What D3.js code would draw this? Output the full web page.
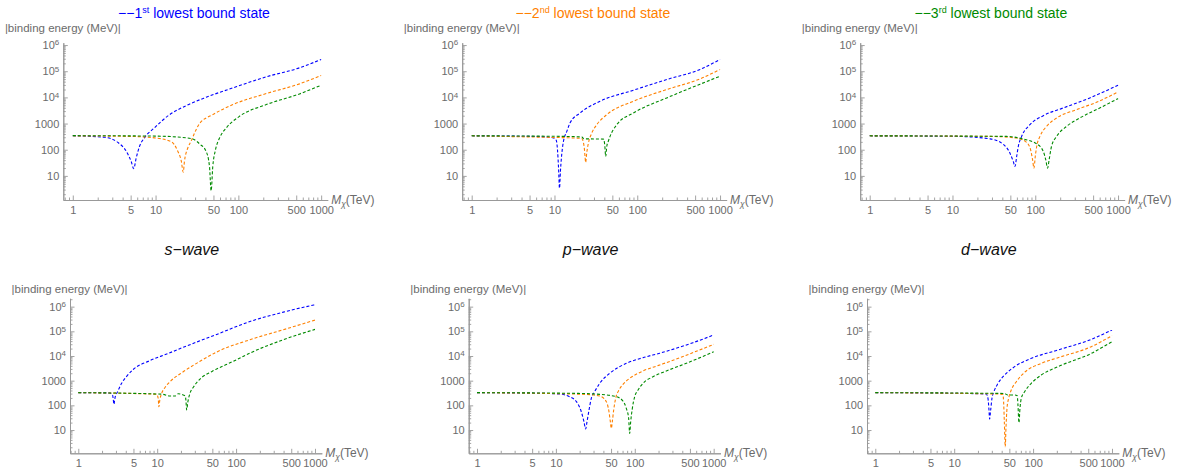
<!DOCTYPE html>
<html><head><meta charset="utf-8">
<script src="https://cdn.jsdelivr.net/npm/d3@7"></script>
<style>
body{margin:0;background:#fff;}
svg{display:block;font-family:"Liberation Sans",Arial,sans-serif;}
</style></head><body>
<svg id="chart" width="1177" height="470"></svg>
<script>
// ---------- data ----------
const stateOrdinals = ["1", "2", "3"];
const stateSuffixes = ["st", "nd", "rd"];
const waveLabels = ["s\u2212wave", "p\u2212wave", "d\u2212wave"];
const massTicks = [1, 5, 10, 50, 100, 500, 1000];
const massTickLabels = ["1", "5", "10", "50", "100", "500", "1000"];
const energyTicks = [10, 100, 1000, 1e4, 1e5, 1e6];
const energyTickLabels = ["10", "100", "1000", "10^4", "10^5", "10^6"];

// [M_chi (TeV), |binding energy| (MeV)]
// top-left panel
const p1_state1 = [[1,340],[2.41,300],[3.5,190],[4.42,88],[5.07,36],[5.45,19],[5.83,48],[6.39,133],[7.34,285],[9.7,690],[14.5,2100],[23.4,4840],[40.8,10100],[85.8,23100],[217,61000],[548,135000],[1000,282000]];
const p1_state2 = [[1,340],[5,322],[9.7,285],[15.4,205],[18.5,90],[20.4,38],[21.6,14],[22.3,35],[24.5,116],[26.9,215],[29.5,430],[33.9,990],[49.1,2190],[85.8,5300],[217,14000],[548,32900],[1000,68600]];
const p1_state3 = [[1,345],[10,332],[23.4,285],[29.5,240],[33.9,169],[40.8,86],[44.8,23],[46.9,2.7],[49.1,23],[52.9,99],[59.2,279],[71.3,674],[103,1890],[217,5300],[548,13600],[1000,29200]];
// top-middle panel
const p2_state1 = [[1,340],[6,320],[9.5,290],[10.5,230],[10.9,90],[11.2,20],[11.5,3.4],[11.8,15],[12.2,60],[12.8,200],[14.1,500],[15.4,1050],[20.4,2540],[35.5,7110],[89.8,18800],[227,48200],[574,117000],[1000,282000]];
const p2_state2 = [[1,340],[8.84,296],[16.9,282],[21.3,270],[22.8,133],[23.4,55],[23.8,33],[24.5,74],[25.7,179],[28.2,433],[32.4,905],[42.8,2190],[89.8,7110],[227,20000],[574,51000],[1000,117000]];
const p2_state3 = [[1,340],[13.4,323],[21.5,305],[22.5,262],[39,255],[40.5,150],[41.6,55],[42.8,133],[44.8,215],[46.9,323],[56.5,905],[89.8,2540],[227,9550],[574,31900],[1000,64700]];
// top-right panel
const p3_state1 = [[1,340],[11.3,323],[28.4,260],[41.2,160],[49.5,74],[54.3,35.5],[56.9,22.8],[59.6,55],[62.4,133],[68.5,323],[86.2,905],[125,2000],[217,3940],[456,9550],[1000,29200]];
const p3_state2 = [[1,340],[28.4,323],[59.6,279],[78.6,190],[87.9,99],[92.9,41],[96.4,19.7],[100,55],[104,133],[114,323],[137,782],[181,1630],[315,3400],[548,6500],[1000,16200]];
const p3_state3 = [[1,340],[45.2,323],[71.7,255],[104,169],[125,86],[134,41],[141,19.7],[147,41],[157,133],[181,323],[239,782],[345,1630],[601,3940],[1000,9000]];
// bottom-left panel (s-wave)
const p4_state1 = [[1,327],[2.5,318],[2.72,262],[2.78,165],[2.83,110],[2.89,165],[2.94,224],[3.12,336],[3.54,780],[4.1,1500],[5,2900],[8.1,6500],[13.2,12000],[21.4,22500],[56.8,75000],[150,250000],[396,600000],[1000,1200000]];
const p4_state2 = [[1,327],[4.1,306],[8.1,288],[9.84,279],[10.3,192],[10.5,88],[10.8,165],[11.4,306],[12.5,520],[14.5,900],[21.4,2300],[34.9,6100],[56.8,14500],[150,45700],[396,116000],[1000,285000]];
const p4_state3 = [[1,327],[9.84,290],[11.9,279],[14.5,239],[16.8,239],[18.5,297],[21.4,262],[22.7,239],[23.2,141],[23.6,65],[24.5,141],[26,306],[28.7,540],[34.8,1150],[50,2400],[92.2,6100],[150,13200],[396,45700],[1000,120000]];
// bottom-middle panel (p-wave)
const p5_state1 = [[1,327],[6.86,306],[11.2,288],[14.9,224],[18.2,141],[21,55],[22.7,21.8],[23.8,11],[24.8,21.8],[26.3,64.7],[28.1,192],[31,358],[35.9,780],[48,1980],[78.1,5050],[127,8550],[207,13000],[547,34700],[1000,71000]];
const p5_state2 = [[1,327],[23.8,279],[35.9,239],[43.6,141],[47.1,55],[49,21.8],[50.4,11.7],[51.9,21.8],[54,64.7],[57.2,192],[63,419],[70.8,710],[86.1,1240],[127,2470],[207,4310],[336,7550],[1000,29700]];
const p5_state3 = [[1,327],[18.2,306],[35.9,279],[58.3,224],[70.8,150],[78.1,75.5],[83.6,29.7],[86.1,7.3],[88.7,21.8],[93.1,75.5],[99.6,224],[110,419],[127,780],[170,1450],[251,2470],[450,5050],[1000,15000]];
// bottom-right panel (d-wave)
const p6_state1 = [[1,327],[11.2,306],[25.5,288],[26.8,192],[27.6,64.7],[28.1,27.9],[29,64.7],[30.1,192],[31.9,358],[35.9,780],[43.6,1700],[58.3,3700],[94.9,8040],[207,17500],[547,47400],[1000,113000]];
const p6_state2 = [[1,327],[35.9,288],[41.5,279],[42.3,141],[43.2,21.8],[44.4,2.1],[45.3,11.7],[46.7,75.5],[49,192],[52.9,419],[61.3,910],[78.1,2180],[127,5050],[207,8550],[547,23900],[1000,67000]];
const p6_state3 = [[1,327],[35.9,306],[43.6,297],[48,262],[58.3,262],[63,247],[64.3,103],[66.2,19.8],[68.2,75.5],[70.8,192],[78.1,358],[94.9,780],[127,1700],[207,3700],[547,12800],[1000,38000]];

// ---------- layout / style ----------
const stateColors = ["#0000ff", "#ff8000", "#008a00"];
const panelSeries = [
  [p1_state1, p1_state2, p1_state3],
  [p2_state1, p2_state2, p2_state3],
  [p3_state1, p3_state2, p3_state3],
  [p4_state1, p4_state2, p4_state3],
  [p5_state1, p5_state2, p5_state3],
  [p6_state1, p6_state2, p6_state3]
];
const topRow = {top: 42.7, bottom: 200, xDomain: [0.768, 1200], yDomain: [1.2, 1.23e6], width: 264.4, ylabY: 31.5};
const botRow = {top: 298.3, bottom: 453.3, xDomain: [0.785, 1220], yDomain: [1.14, 2.18e6], width: 251.8, ylabY: 293};
const panelLefts = [63.3, 462.2, 860.2, 70, 468.7, 867];

const svg = d3.select("#chart");
const axisColor = "#999999";
const labelColor = "#6b6b6b";

function minorValues(lo, hi) {
  const out = [];
  for (let e = -1; e <= 7; e++) {
    for (let m = 2; m <= 9; m++) {
      const v = m * Math.pow(10, e);
      if (v >= lo && v <= hi) out.push(v);
    }
  }
  return out;
}

panelSeries.forEach((series, i) => {
  const row = i < 3 ? topRow : botRow;
  const left = panelLefts[i];
  const right = left + row.width;
  const x = d3.scaleLog().domain(row.xDomain).range([left, right]);
  const y = d3.scaleLog().domain(row.yDomain).range([row.bottom, row.top]);
  const g = svg.append("g");

  const xMinor = minorValues(row.xDomain[0], row.xDomain[1]).filter(v => !massTicks.includes(v));
  const xMinorAxis = g.append("g").attr("transform", `translate(0,${row.bottom})`)
    .call(d3.axisBottom(x).tickValues(xMinor).tickSizeInner(-2.5).tickSizeOuter(0).tickFormat(""));
  const xAxis = g.append("g").attr("transform", `translate(0,${row.bottom})`)
    .call(d3.axisBottom(x).tickValues(massTicks).tickSizeInner(-4.5).tickSizeOuter(0).tickPadding(6.3)
      .tickFormat((d, k) => massTickLabels[k]));
  const yMinor = minorValues(row.yDomain[0], row.yDomain[1]).filter(v => !energyTicks.includes(v));
  const yMinorAxis = g.append("g").attr("transform", `translate(${left},0)`)
    .call(d3.axisLeft(y).tickValues(yMinor).tickSizeInner(-2.5).tickSizeOuter(0).tickFormat(""));
  const yAxis = g.append("g").attr("transform", `translate(${left},0)`)
    .call(d3.axisLeft(y).tickValues(energyTicks).tickSizeInner(-4.5).tickSizeOuter(0).tickPadding(4)
      .tickFormat((d, k) => energyTickLabels[k]));

  [xMinorAxis, xAxis, yMinorAxis, yAxis].forEach(a => {
    a.attr("color", labelColor);
    a.selectAll("path.domain").attr("stroke", axisColor).attr("stroke-width", 1);
    a.selectAll(".tick line").attr("stroke", axisColor).attr("stroke-width", 0.9);
    a.selectAll(".tick text").attr("fill", labelColor).attr("font-size", 11)
      .attr("font-family", "'Liberation Sans', Arial, sans-serif");
  });
  yAxis.selectAll(".tick text").each(function (d, k) {
    const lab = energyTickLabels[k];
    if (lab.includes("^")) {
      const [base, ex] = lab.split("^");
      const t = d3.select(this).text(null);
      t.append("tspan").text(base);
      t.append("tspan").attr("font-size", 8).attr("dy", "-0.45em").text(ex);
    }
  });

  g.append("text").attr("x", left + 57.5).attr("y", row.ylabY).attr("text-anchor", "end")
    .attr("font-size", 11.5).attr("fill", labelColor).text("|binding energy (MeV)|");
  const xl = g.append("text").attr("x", right + 3.5).attr("y", row.bottom + 4)
    .attr("font-size", 12).attr("fill", labelColor);
  xl.append("tspan").attr("font-style", "italic").text("M");
  xl.append("tspan").attr("font-style", "italic").attr("font-size", 8.5).attr("dy", 3).text("\u03C7");
  xl.append("tspan").attr("dy", -3).text("(TeV)");

  const line = d3.line().x(d => x(d[0])).y(d => y(d[1])).curve(d3.curveMonotoneX);
  series.forEach((s, k) => {
    g.append("path").datum(s).attr("d", line).attr("fill", "none")
      .attr("stroke", stateColors[k]).attr("stroke-width", 1.1)
      .attr("stroke-dasharray", "3,2");
  });

  const cx = (left + right) / 2;
  if (i < 3) {
    const t = svg.append("text").attr("x", cx - 1.5).attr("y", 18.3).attr("text-anchor", "middle")
      .attr("font-size", 14).attr("fill", stateColors[i]);
    t.append("tspan").text("\u2212\u2212" + stateOrdinals[i]);
    t.append("tspan").attr("font-size", 9).attr("dy", -5).text(stateSuffixes[i]);
    t.append("tspan").attr("dy", 5).text(" lowest bound state");
  } else {
    svg.append("text").attr("x", cx - 4).attr("y", 255).attr("text-anchor", "middle")
      .attr("font-size", 16).attr("font-style", "italic").attr("fill", "#111")
      .text(waveLabels[i - 3]);
  }
});
</script>
</body></html>
